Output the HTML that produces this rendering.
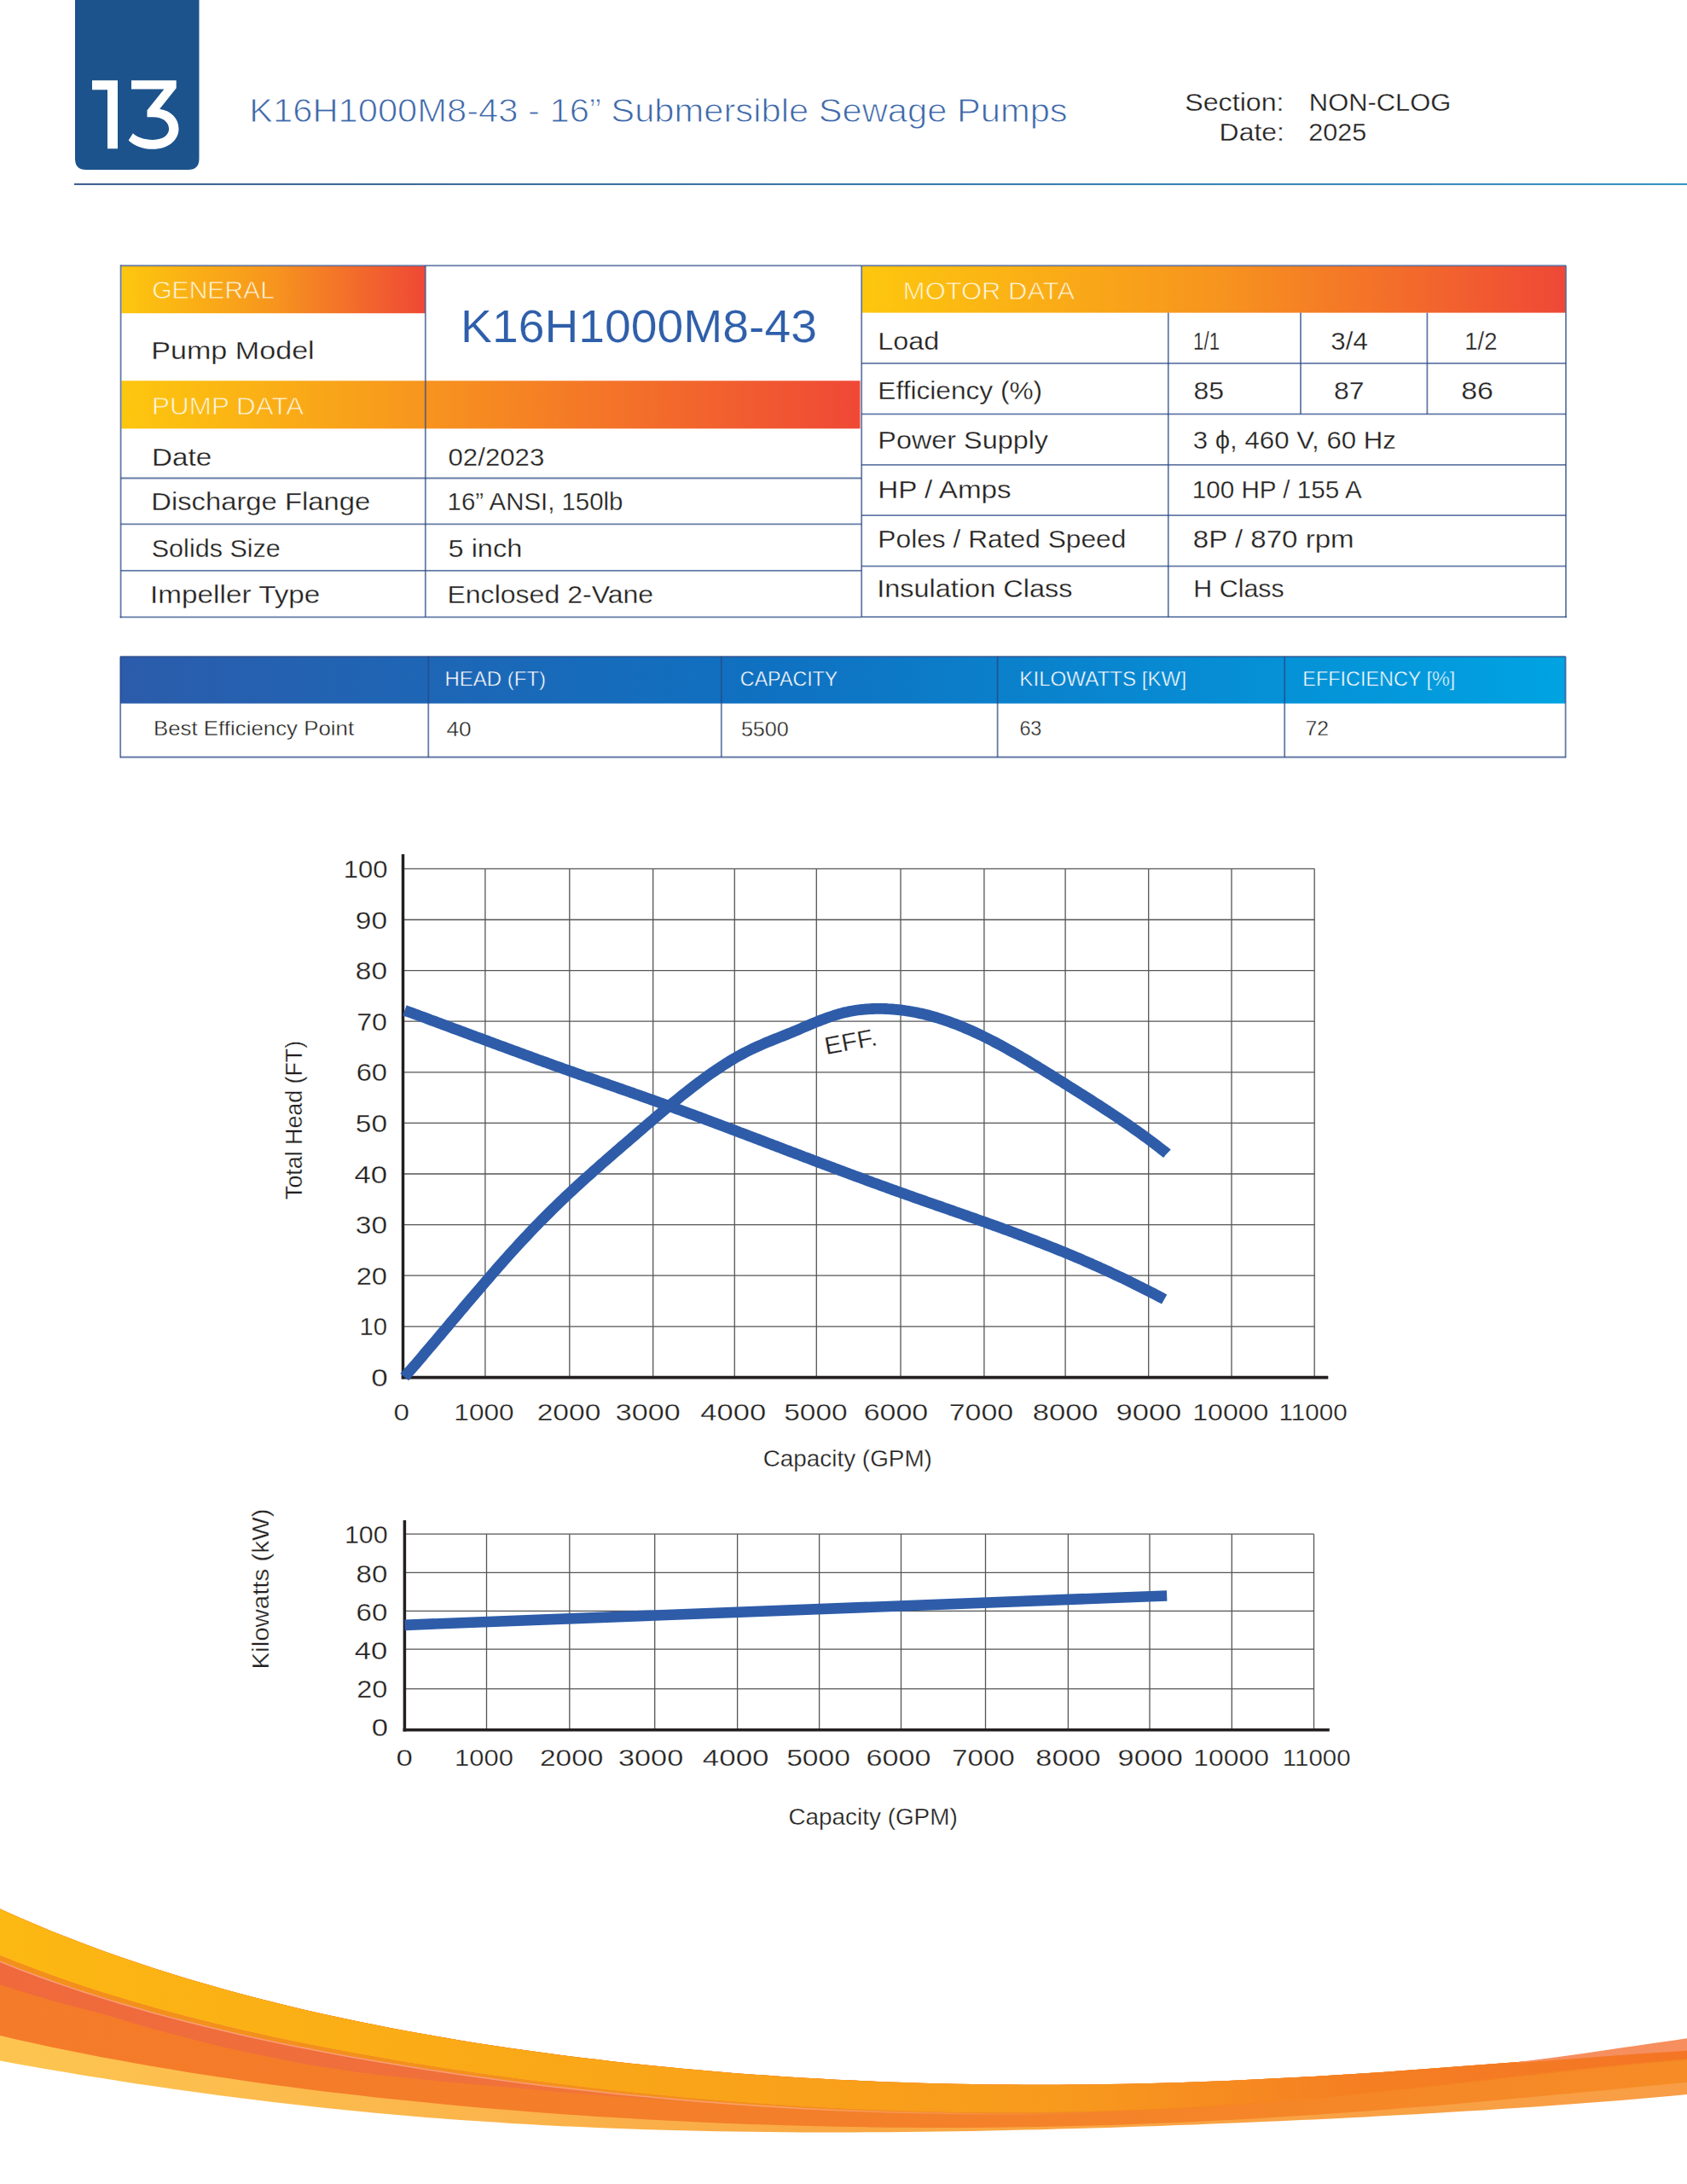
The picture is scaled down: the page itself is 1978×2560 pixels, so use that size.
<!DOCTYPE html>
<html><head><meta charset="utf-8"><title>K16H1000M8-43</title>
<style>
html,body{margin:0;padding:0;background:#ffffff;}
body{width:1978px;height:2560px;overflow:hidden;}
svg{display:block;}
text{font-family:"Liberation Sans",sans-serif;}
</style></head><body>
<svg width="1978" height="2560" viewBox="0 0 1978 2560">
<defs>
<linearGradient id="gOrange" x1="0" x2="1" y1="0" y2="0">
  <stop offset="0" stop-color="#fdc70e"/><stop offset="0.5" stop-color="#f7951e"/><stop offset="1" stop-color="#ef4836"/>
</linearGradient>
<linearGradient id="gYO" x1="0" x2="1" y1="0" y2="0">
  <stop offset="0" stop-color="#fdc70e"/><stop offset="1" stop-color="#f7951e"/>
</linearGradient>
<linearGradient id="gOR" x1="0" x2="1" y1="0" y2="0">
  <stop offset="0" stop-color="#f7941e"/><stop offset="1" stop-color="#ef4836"/>
</linearGradient>
<linearGradient id="gBlue" x1="0" x2="1" y1="0" y2="0">
  <stop offset="0" stop-color="#2b5cab"/><stop offset="0.45" stop-color="#0f71c1"/><stop offset="1" stop-color="#00a3e2"/>
</linearGradient>
<linearGradient id="gLine" x1="0" x2="1" y1="0" y2="0">
  <stop offset="0" stop-color="#35598a"/><stop offset="0.5" stop-color="#2f72a6"/><stop offset="1" stop-color="#2d8fbb"/>
</linearGradient>
<linearGradient id="gSwY" gradientUnits="userSpaceOnUse" x1="0" x2="1978" y1="0" y2="0">
  <stop offset="0" stop-color="#fcb813"/><stop offset="0.3" stop-color="#faa917"/><stop offset="0.63" stop-color="#f89a1d"/><stop offset="0.8" stop-color="#f57f22"/><stop offset="1" stop-color="#f47525"/>
</linearGradient>
<linearGradient id="gSwR" gradientUnits="userSpaceOnUse" x1="0" x2="1978" y1="0" y2="0">
  <stop offset="0" stop-color="#ef693c"/><stop offset="0.3" stop-color="#f0713b"/><stop offset="0.5" stop-color="#f47e2b"/><stop offset="1" stop-color="#f68a24"/>
</linearGradient>
<linearGradient id="gSwO" gradientUnits="userSpaceOnUse" x1="0" x2="1978" y1="0" y2="0">
  <stop offset="0" stop-color="#f47b29"/><stop offset="0.5" stop-color="#f47f2a"/><stop offset="1" stop-color="#f68c26"/>
</linearGradient>
<linearGradient id="gSwL" gradientUnits="userSpaceOnUse" x1="0" x2="1978" y1="0" y2="0">
  <stop offset="0" stop-color="#fdc550"/><stop offset="0.3" stop-color="#fbb44b"/><stop offset="0.5" stop-color="#f9a843"/><stop offset="1" stop-color="#f89d45"/>
</linearGradient>
<linearGradient id="gSwLine" gradientUnits="userSpaceOnUse" x1="0" x2="1300" y1="0" y2="0">
  <stop offset="0" stop-color="#fba37f" stop-opacity="0.9"/><stop offset="0.7" stop-color="#fbb08a" stop-opacity="0.7"/><stop offset="1" stop-color="#fbb08a" stop-opacity="0"/>
</linearGradient>
<linearGradient id="uGen" gradientUnits="userSpaceOnUse" x1="142.5" x2="498.5" y1="0" y2="0">
  <stop offset="0" stop-color="#fdc70e"/><stop offset="0.5" stop-color="#f7951e"/><stop offset="1" stop-color="#ef4836"/>
</linearGradient>
<linearGradient id="uPump" gradientUnits="userSpaceOnUse" x1="142.5" x2="498.5" y1="0" y2="0">
  <stop offset="0" stop-color="#fdc70e"/><stop offset="1" stop-color="#f7951e"/>
</linearGradient>
<linearGradient id="uMotor" gradientUnits="userSpaceOnUse" x1="1011" x2="1835.5" y1="0" y2="0">
  <stop offset="0" stop-color="#fdc70e"/><stop offset="0.5" stop-color="#f7951e"/><stop offset="1" stop-color="#ef4836"/>
</linearGradient>
<linearGradient id="uBlue" gradientUnits="userSpaceOnUse" x1="141" x2="1835.5" y1="0" y2="0">
  <stop offset="0" stop-color="#2b5cab"/><stop offset="0.45" stop-color="#0f71c1"/><stop offset="1" stop-color="#00a3e2"/>
</linearGradient>
<linearGradient id="gSwS" gradientUnits="userSpaceOnUse" x1="0" x2="1978" y1="0" y2="0">
  <stop offset="0" stop-color="#f3901c"/><stop offset="0.5" stop-color="#f4901d"/><stop offset="1" stop-color="#f47a22"/>
</linearGradient>
</defs>
<path d="M88,0 H233.5 V186 Q233.5,199 220.5,199 H101 Q88,199 88,186 Z" fill="#1c538c"/>
<path d="M108,94.3 H138 V174.3 H126 V105.2 H108 Z" fill="#ffffff"/>
<path d="M154,94.2 H206.7 V103.2 L187.2,127.8 C201,130 209.5,139 209.5,151 C209.5,164.5 197,174.8 179.6,174.8 C167,174.8 157,170.5 150.7,164.4 L155.9,156.3 C161,161 169,163.9 179.6,163.9 C191,163.9 198.1,158.5 198.1,151.1 C198.1,143 190.5,137.3 179.6,137.3 H172.5 V129.3 L192.4,104.6 H154 Z" fill="#ffffff"/>
<rect x="87" y="214.9" width="1891" height="2.0" fill="url(#gLine)"/>
<rect x="142.5" y="312" width="356" height="55.2" fill="url(#gOrange)"/>
<rect x="142.5" y="446.3" width="356" height="56.1" fill="url(#gYO)"/>
<rect x="498.5" y="446.3" width="510" height="56.1" fill="url(#gOR)"/>
<rect x="1011" y="312" width="824.5" height="54.6" fill="url(#gOrange)"/>
<line x1="141.6" y1="311.3" x2="1010" y2="311.3" stroke="#284684" stroke-width="1.8" stroke-opacity="0.72"/>
<line x1="141.6" y1="310.4" x2="141.6" y2="724.2" stroke="#284684" stroke-width="1.8" stroke-opacity="0.72"/>
<line x1="140.7" y1="723.3" x2="1010" y2="723.3" stroke="#284684" stroke-width="1.8" stroke-opacity="0.72"/>
<line x1="498.8" y1="311.3" x2="498.8" y2="723.3" stroke="#284684" stroke-width="1.8" stroke-opacity="0.72"/>
<line x1="141.6" y1="560.5" x2="1010" y2="560.5" stroke="#284684" stroke-width="1.8" stroke-opacity="0.72"/>
<line x1="141.6" y1="614.4" x2="1010" y2="614.4" stroke="#284684" stroke-width="1.8" stroke-opacity="0.72"/>
<line x1="141.6" y1="668.9" x2="1010" y2="668.9" stroke="#284684" stroke-width="1.8" stroke-opacity="0.72"/>
<line x1="1010.2" y1="311.3" x2="1836" y2="311.3" stroke="#284684" stroke-width="1.8" stroke-opacity="0.72"/>
<line x1="1010.2" y1="311.3" x2="1010.2" y2="723.3" stroke="#284684" stroke-width="1.8" stroke-opacity="0.72"/>
<line x1="1010.2" y1="723.2" x2="1836.8" y2="723.2" stroke="#284684" stroke-width="1.8" stroke-opacity="0.72"/>
<line x1="1836" y1="311.3" x2="1836" y2="724" stroke="#284684" stroke-width="1.8" stroke-opacity="0.72"/>
<line x1="1369.8" y1="366.6" x2="1369.8" y2="723.2" stroke="#284684" stroke-width="1.8" stroke-opacity="0.72"/>
<line x1="1525" y1="366.6" x2="1525" y2="485.3" stroke="#284684" stroke-width="1.8" stroke-opacity="0.72"/>
<line x1="1673.4" y1="366.6" x2="1673.4" y2="485.3" stroke="#284684" stroke-width="1.8" stroke-opacity="0.72"/>
<line x1="1010.2" y1="425.9" x2="1836" y2="425.9" stroke="#284684" stroke-width="1.8" stroke-opacity="0.72"/>
<line x1="1010.2" y1="485.3" x2="1836" y2="485.3" stroke="#284684" stroke-width="1.8" stroke-opacity="0.72"/>
<line x1="1010.2" y1="544.9" x2="1836" y2="544.9" stroke="#284684" stroke-width="1.8" stroke-opacity="0.72"/>
<line x1="1010.2" y1="604.2" x2="1836" y2="604.2" stroke="#284684" stroke-width="1.8" stroke-opacity="0.72"/>
<line x1="1010.2" y1="663.7" x2="1836" y2="663.7" stroke="#284684" stroke-width="1.8" stroke-opacity="0.72"/>
<rect x="141" y="769.6" width="1694.5" height="55" fill="url(#gBlue)"/>
<line x1="141.2" y1="769.6" x2="1835.6" y2="769.6" stroke="#284684" stroke-width="1.8" stroke-opacity="0.72"/>
<line x1="141.2" y1="887.5" x2="1835.6" y2="887.5" stroke="#284684" stroke-width="1.8" stroke-opacity="0.72"/>
<line x1="141.2" y1="769.6" x2="141.2" y2="888.3" stroke="#284684" stroke-width="1.8" stroke-opacity="0.72"/>
<line x1="1835.6" y1="769.6" x2="1835.6" y2="888.3" stroke="#284684" stroke-width="1.8" stroke-opacity="0.72"/>
<line x1="502.3" y1="769.6" x2="502.3" y2="887.5" stroke="#284684" stroke-width="1.8" stroke-opacity="0.72"/>
<line x1="845.8" y1="769.6" x2="845.8" y2="887.5" stroke="#284684" stroke-width="1.8" stroke-opacity="0.72"/>
<line x1="1169.6" y1="769.6" x2="1169.6" y2="887.5" stroke="#284684" stroke-width="1.8" stroke-opacity="0.72"/>
<line x1="1506.2" y1="769.6" x2="1506.2" y2="887.5" stroke="#284684" stroke-width="1.8" stroke-opacity="0.72"/>
<line x1="472.5" y1="1554.8" x2="1541.2" y2="1554.8" stroke="#555555" stroke-width="1.3"/>
<line x1="472.5" y1="1495.2" x2="1541.2" y2="1495.2" stroke="#555555" stroke-width="1.3"/>
<line x1="472.5" y1="1435.6" x2="1541.2" y2="1435.6" stroke="#555555" stroke-width="1.3"/>
<line x1="472.5" y1="1376.0" x2="1541.2" y2="1376.0" stroke="#555555" stroke-width="1.3"/>
<line x1="472.5" y1="1316.4" x2="1541.2" y2="1316.4" stroke="#555555" stroke-width="1.3"/>
<line x1="472.5" y1="1256.8" x2="1541.2" y2="1256.8" stroke="#555555" stroke-width="1.3"/>
<line x1="472.5" y1="1197.2" x2="1541.2" y2="1197.2" stroke="#555555" stroke-width="1.3"/>
<line x1="472.5" y1="1137.6" x2="1541.2" y2="1137.6" stroke="#555555" stroke-width="1.3"/>
<line x1="472.5" y1="1078.0" x2="1541.2" y2="1078.0" stroke="#555555" stroke-width="1.3"/>
<line x1="472.5" y1="1018.4" x2="1541.2" y2="1018.4" stroke="#555555" stroke-width="1.3"/>
<line x1="568.9" y1="1018.3" x2="568.9" y2="1614.4" stroke="#555555" stroke-width="1.3"/>
<line x1="667.8" y1="1018.3" x2="667.8" y2="1614.4" stroke="#555555" stroke-width="1.3"/>
<line x1="765.7" y1="1018.3" x2="765.7" y2="1614.4" stroke="#555555" stroke-width="1.3"/>
<line x1="861.3" y1="1018.3" x2="861.3" y2="1614.4" stroke="#555555" stroke-width="1.3"/>
<line x1="957.3" y1="1018.3" x2="957.3" y2="1614.4" stroke="#555555" stroke-width="1.3"/>
<line x1="1056.0" y1="1018.3" x2="1056.0" y2="1614.4" stroke="#555555" stroke-width="1.3"/>
<line x1="1153.9" y1="1018.3" x2="1153.9" y2="1614.4" stroke="#555555" stroke-width="1.3"/>
<line x1="1249.1" y1="1018.3" x2="1249.1" y2="1614.4" stroke="#555555" stroke-width="1.3"/>
<line x1="1346.7" y1="1018.3" x2="1346.7" y2="1614.4" stroke="#555555" stroke-width="1.3"/>
<line x1="1444.0" y1="1018.3" x2="1444.0" y2="1614.4" stroke="#555555" stroke-width="1.3"/>
<line x1="1541.2" y1="1018.3" x2="1541.2" y2="1614.4" stroke="#555555" stroke-width="1.3"/>
<line x1="472.5" y1="1001.3" x2="472.5" y2="1616.2" stroke="#231f20" stroke-width="3.5"/>
<line x1="470.8" y1="1614.6" x2="1557.3" y2="1614.6" stroke="#231f20" stroke-width="3.6"/>
<path d="M474.5,1184.3 L477.5,1185.4 L480.5,1186.5 L483.5,1187.6 L486.5,1188.7 L489.5,1189.8 L492.5,1190.9 L495.5,1192.0 L498.5,1193.1 L501.5,1194.2 L504.5,1195.4 L507.5,1196.5 L510.5,1197.6 L513.5,1198.7 L516.5,1199.8 L519.5,1200.9 L522.5,1202.0 L525.5,1203.1 L528.5,1204.3 L531.5,1205.4 L534.5,1206.5 L537.5,1207.6 L540.5,1208.7 L543.5,1209.8 L546.5,1210.9 L549.5,1212.1 L552.5,1213.2 L555.5,1214.3 L558.5,1215.4 L561.5,1216.5 L564.5,1217.6 L567.5,1218.7 L570.5,1219.8 L573.5,1221.0 L576.5,1222.1 L579.5,1223.2 L582.5,1224.3 L585.5,1225.4 L588.5,1226.5 L591.5,1227.6 L594.5,1228.7 L597.5,1229.8 L600.5,1230.9 L603.5,1232.0 L606.5,1233.1 L609.5,1234.2 L612.5,1235.3 L615.5,1236.4 L618.5,1237.5 L621.5,1238.6 L624.5,1239.7 L627.5,1240.8 L630.5,1241.9 L633.5,1243.0 L636.5,1244.1 L639.5,1245.1 L642.5,1246.2 L645.5,1247.3 L648.5,1248.4 L651.5,1249.5 L654.5,1250.5 L657.5,1251.6 L660.5,1252.7 L663.5,1253.7 L666.5,1254.8 L669.5,1255.9 L672.5,1256.9 L675.5,1258.0 L678.5,1259.1 L681.5,1260.1 L684.5,1261.2 L687.5,1262.2 L690.5,1263.3 L693.5,1264.3 L696.5,1265.4 L699.5,1266.4 L702.5,1267.5 L705.5,1268.5 L708.5,1269.6 L711.5,1270.6 L714.5,1271.7 L717.5,1272.7 L720.5,1273.8 L723.5,1274.8 L726.5,1275.9 L729.5,1276.9 L732.5,1278.0 L735.5,1279.0 L738.5,1280.1 L741.5,1281.1 L744.5,1282.2 L747.5,1283.2 L750.5,1284.3 L753.5,1285.4 L756.5,1286.4 L759.5,1287.5 L762.5,1288.6 L765.5,1289.6 L768.5,1290.7 L771.5,1291.8 L774.5,1292.9 L777.5,1293.9 L780.5,1295.0 L783.5,1296.1 L786.5,1297.2 L789.5,1298.3 L792.5,1299.4 L795.5,1300.5 L798.5,1301.6 L801.5,1302.7 L804.5,1303.8 L807.5,1304.9 L810.5,1306.0 L813.5,1307.1 L816.5,1308.2 L819.5,1309.3 L822.5,1310.5 L825.5,1311.6 L828.5,1312.7 L831.5,1313.8 L834.5,1314.9 L837.5,1316.1 L840.5,1317.2 L843.5,1318.3 L846.5,1319.4 L849.5,1320.6 L852.5,1321.7 L855.5,1322.8 L858.5,1324.0 L861.5,1325.1 L864.5,1326.2 L867.5,1327.4 L870.5,1328.5 L873.5,1329.6 L876.5,1330.8 L879.5,1331.9 L882.5,1333.1 L885.5,1334.2 L888.5,1335.3 L891.5,1336.5 L894.5,1337.6 L897.5,1338.8 L900.5,1339.9 L903.5,1341.0 L906.5,1342.2 L909.5,1343.3 L912.5,1344.5 L915.5,1345.6 L918.5,1346.8 L921.5,1347.9 L924.5,1349.0 L927.5,1350.2 L930.5,1351.3 L933.5,1352.5 L936.5,1353.6 L939.5,1354.7 L942.5,1355.9 L945.5,1357.0 L948.5,1358.1 L951.5,1359.3 L954.5,1360.4 L957.5,1361.5 L960.5,1362.7 L963.5,1363.8 L966.5,1364.9 L969.5,1366.1 L972.5,1367.2 L975.5,1368.3 L978.5,1369.5 L981.5,1370.6 L984.5,1371.7 L987.5,1372.8 L990.5,1373.9 L993.5,1375.1 L996.5,1376.2 L999.5,1377.3 L1002.5,1378.4 L1005.5,1379.5 L1008.5,1380.6 L1011.5,1381.7 L1014.5,1382.8 L1017.5,1384.0 L1020.5,1385.1 L1023.5,1386.2 L1026.5,1387.2 L1029.5,1388.3 L1032.5,1389.4 L1035.5,1390.5 L1038.5,1391.6 L1041.5,1392.7 L1044.5,1393.8 L1047.5,1394.9 L1050.5,1395.9 L1053.5,1397.0 L1056.5,1398.1 L1059.5,1399.1 L1062.5,1400.2 L1065.5,1401.3 L1068.5,1402.3 L1071.5,1403.4 L1074.5,1404.5 L1077.5,1405.5 L1080.5,1406.6 L1083.5,1407.6 L1086.5,1408.7 L1089.5,1409.7 L1092.5,1410.8 L1095.5,1411.8 L1098.5,1412.9 L1101.5,1413.9 L1104.5,1414.9 L1107.5,1416.0 L1110.5,1417.0 L1113.5,1418.1 L1116.5,1419.1 L1119.5,1420.2 L1122.5,1421.2 L1125.5,1422.3 L1128.5,1423.3 L1131.5,1424.4 L1134.5,1425.4 L1137.5,1426.5 L1140.5,1427.5 L1143.5,1428.6 L1146.5,1429.7 L1149.5,1430.7 L1152.5,1431.8 L1155.5,1432.8 L1158.5,1433.9 L1161.5,1435.0 L1164.5,1436.1 L1167.5,1437.1 L1170.5,1438.2 L1173.5,1439.3 L1176.5,1440.4 L1179.5,1441.5 L1182.5,1442.6 L1185.5,1443.7 L1188.5,1444.8 L1191.5,1445.9 L1194.5,1447.0 L1197.5,1448.2 L1200.5,1449.3 L1203.5,1450.4 L1206.5,1451.6 L1209.5,1452.7 L1212.5,1453.8 L1215.5,1455.0 L1218.5,1456.2 L1221.5,1457.3 L1224.5,1458.5 L1227.5,1459.7 L1230.5,1460.9 L1233.5,1462.1 L1236.5,1463.3 L1239.5,1464.5 L1242.5,1465.7 L1245.5,1466.9 L1248.5,1468.1 L1251.5,1469.4 L1254.5,1470.6 L1257.5,1471.9 L1260.5,1473.2 L1263.5,1474.4 L1266.5,1475.7 L1269.5,1477.0 L1272.5,1478.3 L1275.5,1479.6 L1278.5,1480.9 L1281.5,1482.3 L1284.5,1483.6 L1287.5,1484.9 L1290.5,1486.3 L1293.5,1487.6 L1296.5,1489.0 L1299.5,1490.4 L1302.5,1491.8 L1305.5,1493.2 L1308.5,1494.6 L1311.5,1496.0 L1314.5,1497.4 L1317.5,1498.8 L1320.5,1500.3 L1323.5,1501.7 L1326.5,1503.2 L1329.5,1504.7 L1332.5,1506.2 L1335.5,1507.7 L1338.5,1509.2 L1341.5,1510.7 L1344.5,1512.2 L1347.5,1513.7 L1350.5,1515.3 L1353.5,1516.8 L1356.5,1518.4 L1359.5,1520.0 L1362.5,1521.5 L1365.2,1523.0" fill="none" stroke="#2e5ca9" stroke-width="12.8" stroke-linejoin="round"/>
<path d="M474.2,1614.2 L477.2,1610.7 L480.2,1607.2 L483.2,1603.8 L486.2,1600.3 L489.2,1596.8 L492.2,1593.3 L495.2,1589.8 L498.2,1586.2 L501.2,1582.7 L504.2,1579.2 L507.2,1575.6 L510.2,1572.1 L513.2,1568.5 L516.2,1565.0 L519.2,1561.4 L522.2,1557.9 L525.2,1554.3 L528.2,1550.7 L531.2,1547.2 L534.2,1543.6 L537.2,1540.1 L540.2,1536.5 L543.2,1533.0 L546.2,1529.4 L549.2,1525.9 L552.2,1522.3 L555.2,1518.8 L558.2,1515.3 L561.2,1511.8 L564.2,1508.3 L567.2,1504.8 L570.2,1501.3 L573.2,1497.9 L576.2,1494.4 L579.2,1491.0 L582.2,1487.5 L585.2,1484.1 L588.2,1480.7 L591.2,1477.3 L594.2,1474.0 L597.2,1470.6 L600.2,1467.3 L603.2,1464.0 L606.2,1460.7 L609.2,1457.4 L612.2,1454.2 L615.2,1451.0 L618.2,1447.8 L621.2,1444.6 L624.2,1441.4 L627.2,1438.3 L630.2,1435.2 L633.2,1432.1 L636.2,1429.1 L639.2,1426.1 L642.2,1423.1 L645.2,1420.1 L648.2,1417.2 L651.2,1414.2 L654.2,1411.3 L657.2,1408.4 L660.2,1405.6 L663.2,1402.7 L666.2,1399.9 L669.2,1397.1 L672.2,1394.3 L675.2,1391.6 L678.2,1388.8 L681.2,1386.1 L684.2,1383.3 L687.2,1380.6 L690.2,1377.9 L693.2,1375.3 L696.2,1372.6 L699.2,1369.9 L702.2,1367.3 L705.2,1364.6 L708.2,1362.0 L711.2,1359.4 L714.2,1356.7 L717.2,1354.1 L720.2,1351.5 L723.2,1348.9 L726.2,1346.3 L729.2,1343.7 L732.2,1341.2 L735.2,1338.6 L738.2,1336.0 L741.2,1333.4 L744.2,1330.8 L747.2,1328.2 L750.2,1325.6 L753.2,1323.1 L756.2,1320.5 L759.2,1317.9 L762.2,1315.3 L765.2,1312.8 L768.2,1310.2 L771.2,1307.6 L774.2,1305.1 L777.2,1302.6 L780.2,1300.1 L783.2,1297.5 L786.2,1295.0 L789.2,1292.6 L792.2,1290.1 L795.2,1287.7 L798.2,1285.2 L801.2,1282.8 L804.2,1280.4 L807.2,1278.1 L810.2,1275.7 L813.2,1273.4 L816.2,1271.1 L819.2,1268.8 L822.2,1266.6 L825.2,1264.4 L828.2,1262.2 L831.2,1260.1 L834.2,1257.9 L837.2,1255.9 L840.2,1253.8 L843.2,1251.8 L846.2,1249.8 L849.2,1247.9 L852.2,1246.0 L855.2,1244.1 L858.2,1242.3 L861.2,1240.5 L864.2,1238.8 L867.2,1237.1 L870.2,1235.5 L873.2,1233.9 L876.2,1232.4 L879.2,1230.9 L882.2,1229.4 L885.2,1228.0 L888.2,1226.6 L891.2,1225.3 L894.2,1224.0 L897.2,1222.7 L900.2,1221.4 L903.2,1220.2 L906.2,1219.0 L909.2,1217.8 L912.2,1216.6 L915.2,1215.4 L918.2,1214.2 L921.2,1213.0 L924.2,1211.8 L927.2,1210.6 L930.2,1209.3 L933.2,1208.1 L936.2,1206.8 L939.2,1205.5 L942.2,1204.2 L945.2,1202.9 L948.2,1201.7 L951.2,1200.4 L954.2,1199.1 L957.2,1197.9 L960.2,1196.7 L963.2,1195.5 L966.2,1194.4 L969.2,1193.3 L972.2,1192.2 L975.2,1191.2 L978.2,1190.2 L981.2,1189.3 L984.2,1188.4 L987.2,1187.6 L990.2,1186.8 L993.2,1186.2 L996.2,1185.5 L999.2,1185.0 L1002.2,1184.5 L1005.2,1184.0 L1008.2,1183.7 L1011.2,1183.3 L1014.2,1183.0 L1017.2,1182.8 L1020.2,1182.6 L1023.2,1182.5 L1026.2,1182.4 L1029.2,1182.4 L1032.2,1182.4 L1035.2,1182.4 L1038.2,1182.5 L1041.2,1182.7 L1044.2,1182.8 L1047.2,1183.0 L1050.2,1183.3 L1053.2,1183.6 L1056.2,1183.9 L1059.2,1184.3 L1062.2,1184.8 L1065.2,1185.2 L1068.2,1185.7 L1071.2,1186.3 L1074.2,1186.8 L1077.2,1187.5 L1080.2,1188.1 L1083.2,1188.8 L1086.2,1189.5 L1089.2,1190.3 L1092.2,1191.1 L1095.2,1192.0 L1098.2,1192.8 L1101.2,1193.8 L1104.2,1194.7 L1107.2,1195.7 L1110.2,1196.7 L1113.2,1197.8 L1116.2,1198.9 L1119.2,1200.0 L1122.2,1201.1 L1125.2,1202.3 L1128.2,1203.5 L1131.2,1204.8 L1134.2,1206.1 L1137.2,1207.4 L1140.2,1208.7 L1143.2,1210.1 L1146.2,1211.5 L1149.2,1212.9 L1152.2,1214.4 L1155.2,1215.9 L1158.2,1217.4 L1161.2,1218.9 L1164.2,1220.4 L1167.2,1222.0 L1170.2,1223.6 L1173.2,1225.2 L1176.2,1226.8 L1179.2,1228.5 L1182.2,1230.2 L1185.2,1231.9 L1188.2,1233.6 L1191.2,1235.3 L1194.2,1237.0 L1197.2,1238.8 L1200.2,1240.5 L1203.2,1242.3 L1206.2,1244.1 L1209.2,1245.9 L1212.2,1247.7 L1215.2,1249.5 L1218.2,1251.4 L1221.2,1253.2 L1224.2,1255.1 L1227.2,1256.9 L1230.2,1258.8 L1233.2,1260.6 L1236.2,1262.5 L1239.2,1264.4 L1242.2,1266.3 L1245.2,1268.1 L1248.2,1270.0 L1251.2,1271.9 L1254.2,1273.8 L1257.2,1275.7 L1260.2,1277.6 L1263.2,1279.4 L1266.2,1281.3 L1269.2,1283.2 L1272.2,1285.1 L1275.2,1287.0 L1278.2,1288.9 L1281.2,1290.9 L1284.2,1292.8 L1287.2,1294.7 L1290.2,1296.7 L1293.2,1298.6 L1296.2,1300.6 L1299.2,1302.5 L1302.2,1304.5 L1305.2,1306.5 L1308.2,1308.5 L1311.2,1310.5 L1314.2,1312.6 L1317.2,1314.6 L1320.2,1316.7 L1323.2,1318.7 L1326.2,1320.8 L1329.2,1322.9 L1332.2,1325.0 L1335.2,1327.2 L1338.2,1329.3 L1341.2,1331.5 L1344.2,1333.7 L1347.2,1335.9 L1350.2,1338.1 L1353.2,1340.4 L1356.2,1342.7 L1359.2,1345.0 L1362.2,1347.3 L1365.2,1349.6 L1368.2,1352.0 L1368.3,1352.1" fill="none" stroke="#2e5ca9" stroke-width="12.8" stroke-linejoin="round"/>
<line x1="474.2" y1="1798.2" x2="1540.5" y2="1798.2" stroke="#555555" stroke-width="1.3"/>
<line x1="474.2" y1="1843.4" x2="1540.5" y2="1843.4" stroke="#555555" stroke-width="1.3"/>
<line x1="474.2" y1="1888.4" x2="1540.5" y2="1888.4" stroke="#555555" stroke-width="1.3"/>
<line x1="474.2" y1="1933.1" x2="1540.5" y2="1933.1" stroke="#555555" stroke-width="1.3"/>
<line x1="474.2" y1="1979.6" x2="1540.5" y2="1979.6" stroke="#555555" stroke-width="1.3"/>
<line x1="570.5" y1="1798.2" x2="570.5" y2="2027.6" stroke="#555555" stroke-width="1.3"/>
<line x1="667.8" y1="1798.2" x2="667.8" y2="2027.6" stroke="#555555" stroke-width="1.3"/>
<line x1="767.7" y1="1798.2" x2="767.7" y2="2027.6" stroke="#555555" stroke-width="1.3"/>
<line x1="864.6" y1="1798.2" x2="864.6" y2="2027.6" stroke="#555555" stroke-width="1.3"/>
<line x1="960.6" y1="1798.2" x2="960.6" y2="2027.6" stroke="#555555" stroke-width="1.3"/>
<line x1="1056.5" y1="1798.2" x2="1056.5" y2="2027.6" stroke="#555555" stroke-width="1.3"/>
<line x1="1155.5" y1="1798.2" x2="1155.5" y2="2027.6" stroke="#555555" stroke-width="1.3"/>
<line x1="1252.4" y1="1798.2" x2="1252.4" y2="2027.6" stroke="#555555" stroke-width="1.3"/>
<line x1="1348.0" y1="1798.2" x2="1348.0" y2="2027.6" stroke="#555555" stroke-width="1.3"/>
<line x1="1444.3" y1="1798.2" x2="1444.3" y2="2027.6" stroke="#555555" stroke-width="1.3"/>
<line x1="1540.5" y1="1798.2" x2="1540.5" y2="2027.6" stroke="#555555" stroke-width="1.3"/>
<line x1="474.4" y1="1782" x2="474.4" y2="2029.4" stroke="#231f20" stroke-width="3.5"/>
<line x1="472.6" y1="2027.7" x2="1558.8" y2="2027.7" stroke="#231f20" stroke-width="3.6"/>
<path d="M474.5,1904.8 L1368.2,1870.5" fill="none" stroke="#2e5ca9" stroke-width="12.7"/>
<path d="M-20.0,2228.3 0.0,2237.6 20.0,2246.5 40.0,2255.1 60.0,2263.4 80.0,2271.3 100.0,2279.0 120.0,2286.4 140.0,2293.5 160.0,2300.3 180.0,2306.9 200.0,2313.3 220.0,2319.4 240.0,2325.3 260.0,2331.0 280.0,2336.4 300.0,2341.7 320.0,2346.8 340.0,2351.7 360.0,2356.4 380.0,2360.9 400.0,2365.3 420.0,2369.5 440.0,2373.5 460.0,2377.4 480.0,2381.2 500.0,2384.8 520.0,2388.3 540.0,2391.7 560.0,2394.9 580.0,2398.0 600.0,2401.0 620.0,2403.8 640.0,2406.6 660.0,2409.2 680.0,2411.7 700.0,2414.1 720.0,2416.5 740.0,2418.7 760.0,2420.8 780.0,2422.8 800.0,2424.7 820.0,2426.5 840.0,2428.2 860.0,2429.9 880.0,2431.4 900.0,2432.8 920.0,2434.2 940.0,2435.4 960.0,2436.6 980.0,2437.7 1000.0,2438.6 1020.0,2439.5 1040.0,2440.4 1060.0,2441.1 1080.0,2441.7 1100.0,2442.3 1120.0,2442.7 1140.0,2443.1 1160.0,2443.4 1180.0,2443.6 1200.0,2443.7 1220.0,2443.8 1240.0,2443.7 1260.0,2443.6 1280.0,2443.4 1300.0,2443.1 1320.0,2442.7 1340.0,2442.3 1360.0,2441.8 1380.0,2441.2 1400.0,2440.5 1420.0,2439.8 1440.0,2439.0 1460.0,2438.1 1480.0,2437.1 1500.0,2436.1 1520.0,2435.0 1540.0,2433.9 1560.0,2432.7 1580.0,2431.5 1600.0,2430.2 1620.0,2428.9 1640.0,2427.5 1660.0,2426.1 1680.0,2424.6 1700.0,2423.1 1720.0,2421.6 1740.0,2420.1 1760.0,2418.6 1780.0,2417.0 1800.0,2415.5 1820.0,2413.9 1840.0,2412.4 1860.0,2410.9 1880.0,2409.4 1900.0,2408.0 1920.0,2406.6 1940.0,2405.2 1960.0,2403.9 1980.0,2402.7 2000.0,2401.6 L2000.0,2452.9 1980.0,2454.8 1960.0,2456.7 1940.0,2458.5 1920.0,2460.2 1900.0,2461.9 1880.0,2463.5 1860.0,2465.1 1840.0,2466.6 1820.0,2468.0 1800.0,2469.4 1780.0,2470.8 1760.0,2472.1 1740.0,2473.4 1720.0,2474.6 1700.0,2475.8 1680.0,2477.0 1660.0,2478.2 1640.0,2479.3 1620.0,2480.3 1600.0,2481.4 1580.0,2482.4 1560.0,2483.4 1540.0,2484.4 1520.0,2485.3 1500.0,2486.2 1480.0,2487.1 1460.0,2488.0 1440.0,2488.8 1420.0,2489.6 1400.0,2490.4 1380.0,2491.1 1360.0,2491.9 1340.0,2492.6 1320.0,2493.2 1300.0,2493.9 1280.0,2494.5 1260.0,2495.1 1240.0,2495.6 1220.0,2496.2 1200.0,2496.6 1180.0,2497.1 1160.0,2497.5 1140.0,2497.9 1120.0,2498.2 1100.0,2498.5 1080.0,2498.8 1060.0,2499.0 1040.0,2499.2 1020.0,2499.3 1000.0,2499.4 980.0,2499.4 960.0,2499.4 940.0,2499.4 920.0,2499.2 900.0,2499.1 880.0,2498.8 860.0,2498.5 840.0,2498.2 820.0,2497.8 800.0,2497.3 780.0,2496.8 760.0,2496.2 740.0,2495.5 720.0,2494.8 700.0,2494.0 680.0,2493.1 660.0,2492.2 640.0,2491.2 620.0,2490.1 600.0,2488.9 580.0,2487.6 560.0,2486.3 540.0,2484.9 520.0,2483.4 500.0,2481.9 480.0,2480.2 460.0,2478.5 440.0,2476.7 420.0,2474.8 400.0,2472.8 380.0,2470.7 360.0,2468.5 340.0,2466.3 320.0,2464.0 300.0,2461.6 280.0,2459.1 260.0,2456.5 240.0,2453.8 220.0,2451.1 200.0,2448.3 180.0,2445.3 160.0,2442.4 140.0,2439.3 120.0,2436.1 100.0,2432.9 80.0,2429.6 60.0,2426.2 40.0,2422.8 20.0,2419.2 0.0,2415.6 -20.0,2412.0 Z" fill="url(#gSwL)"/>
<path d="M-20.0,2228.3 0.0,2237.6 20.0,2246.5 40.0,2255.1 60.0,2263.4 80.0,2271.3 100.0,2279.0 120.0,2286.4 140.0,2293.5 160.0,2300.3 180.0,2306.9 200.0,2313.3 220.0,2319.4 240.0,2325.3 260.0,2331.0 280.0,2336.4 300.0,2341.7 320.0,2346.8 340.0,2351.7 360.0,2356.4 380.0,2360.9 400.0,2365.3 420.0,2369.5 440.0,2373.5 460.0,2377.4 480.0,2381.2 500.0,2384.8 520.0,2388.3 540.0,2391.7 560.0,2394.9 580.0,2398.0 600.0,2401.0 620.0,2403.8 640.0,2406.6 660.0,2409.2 680.0,2411.7 700.0,2414.1 720.0,2416.5 740.0,2418.7 760.0,2420.8 780.0,2422.8 800.0,2424.7 820.0,2426.5 840.0,2428.2 860.0,2429.9 880.0,2431.4 900.0,2432.8 920.0,2434.2 940.0,2435.4 960.0,2436.6 980.0,2437.7 1000.0,2438.6 1020.0,2439.5 1040.0,2440.4 1060.0,2441.1 1080.0,2441.7 1100.0,2442.3 1120.0,2442.7 1140.0,2443.1 1160.0,2443.4 1180.0,2443.6 1200.0,2443.7 1220.0,2443.8 1240.0,2443.7 1260.0,2443.6 1280.0,2443.4 1300.0,2443.1 1320.0,2442.7 1340.0,2442.3 1360.0,2441.8 1380.0,2441.2 1400.0,2440.5 1420.0,2439.8 1440.0,2439.0 1460.0,2438.1 1480.0,2437.1 1500.0,2436.1 1520.0,2435.0 1540.0,2433.9 1560.0,2432.7 1580.0,2431.5 1600.0,2430.2 1620.0,2428.9 1640.0,2427.5 1660.0,2426.1 1680.0,2424.6 1700.0,2423.1 1720.0,2421.6 1740.0,2420.1 1760.0,2418.6 1780.0,2417.0 1800.0,2415.5 1820.0,2413.9 1840.0,2412.4 1860.0,2410.9 1880.0,2409.4 1900.0,2408.0 1920.0,2406.6 1940.0,2405.2 1960.0,2403.9 1980.0,2402.7 2000.0,2401.6 L2000.0,2438.8 1980.0,2440.7 1960.0,2442.6 1940.0,2444.4 1920.0,2446.3 1900.0,2448.3 1880.0,2450.2 1860.0,2452.1 1840.0,2454.0 1820.0,2455.8 1800.0,2457.7 1780.0,2459.5 1760.0,2461.4 1740.0,2463.2 1720.0,2464.9 1700.0,2466.7 1680.0,2468.4 1660.0,2470.0 1640.0,2471.6 1620.0,2473.2 1600.0,2474.7 1580.0,2476.2 1560.0,2477.6 1540.0,2479.0 1520.0,2480.3 1500.0,2481.6 1480.0,2482.8 1460.0,2483.9 1440.0,2485.0 1420.0,2486.1 1400.0,2487.0 1380.0,2487.9 1360.0,2488.8 1340.0,2489.6 1320.0,2490.3 1300.0,2491.0 1280.0,2491.6 1260.0,2492.1 1240.0,2492.6 1220.0,2493.0 1200.0,2493.3 1180.0,2493.6 1160.0,2493.8 1140.0,2493.9 1120.0,2494.0 1100.0,2494.0 1080.0,2494.0 1060.0,2493.8 1040.0,2493.7 1020.0,2493.4 1000.0,2493.1 980.0,2492.7 960.0,2492.3 940.0,2491.8 920.0,2491.2 900.0,2490.6 880.0,2489.9 860.0,2489.2 840.0,2488.4 820.0,2487.5 800.0,2486.5 780.0,2485.5 760.0,2484.5 740.0,2483.3 720.0,2482.1 700.0,2480.9 680.0,2479.5 660.0,2478.2 640.0,2476.7 620.0,2475.2 600.0,2473.6 580.0,2471.9 560.0,2470.2 540.0,2468.4 520.0,2466.5 500.0,2464.6 480.0,2462.6 460.0,2460.5 440.0,2458.4 420.0,2456.1 400.0,2453.8 380.0,2451.4 360.0,2448.9 340.0,2446.3 320.0,2443.7 300.0,2440.9 280.0,2438.0 260.0,2435.1 240.0,2432.0 220.0,2428.9 200.0,2425.6 180.0,2422.2 160.0,2418.8 140.0,2415.1 120.0,2411.4 100.0,2407.5 80.0,2403.5 60.0,2399.4 40.0,2395.1 20.0,2390.7 0.0,2386.1 -20.0,2381.3 Z" fill="url(#gSwO)"/>
<path d="M-20.0,2228.3 0.0,2237.6 20.0,2246.5 40.0,2255.1 60.0,2263.4 80.0,2271.3 100.0,2279.0 120.0,2286.4 140.0,2293.5 160.0,2300.3 180.0,2306.9 200.0,2313.3 220.0,2319.4 240.0,2325.3 260.0,2331.0 280.0,2336.4 300.0,2341.7 320.0,2346.8 340.0,2351.7 360.0,2356.4 380.0,2360.9 400.0,2365.3 420.0,2369.5 440.0,2373.5 460.0,2377.4 480.0,2381.2 500.0,2384.8 520.0,2388.3 540.0,2391.7 560.0,2394.9 580.0,2398.0 600.0,2401.0 620.0,2403.8 640.0,2406.6 660.0,2409.2 680.0,2411.7 700.0,2414.1 720.0,2416.5 740.0,2418.7 760.0,2420.8 780.0,2422.8 800.0,2424.7 820.0,2426.5 840.0,2428.2 860.0,2429.9 880.0,2431.4 900.0,2432.8 920.0,2434.2 940.0,2435.4 960.0,2436.6 980.0,2437.7 1000.0,2438.6 1020.0,2439.5 1040.0,2440.4 1060.0,2441.1 1080.0,2441.7 1100.0,2442.3 1120.0,2442.7 1140.0,2443.1 1160.0,2443.4 1180.0,2443.6 1200.0,2443.7 1220.0,2443.8 1240.0,2443.7 1260.0,2443.6 1280.0,2443.4 1300.0,2443.1 1320.0,2442.7 1340.0,2442.3 1360.0,2441.8 1380.0,2441.2 1400.0,2440.5 1420.0,2439.8 1440.0,2439.0 1460.0,2438.1 1480.0,2437.1 1500.0,2436.1 1520.0,2435.0 1540.0,2433.9 1560.0,2432.7 1580.0,2431.5 1600.0,2430.2 1620.0,2428.9 1640.0,2427.5 1660.0,2426.1 1680.0,2424.6 1700.0,2423.1 1720.0,2421.6 1740.0,2420.1 1760.0,2418.6 1780.0,2417.0 1800.0,2415.5 1820.0,2413.9 1840.0,2412.4 1860.0,2410.9 1880.0,2409.4 1900.0,2408.0 1920.0,2406.6 1940.0,2405.2 1960.0,2403.9 1980.0,2402.7 2000.0,2401.6 L2000.0,2411.7 1980.0,2413.1 1960.0,2414.7 1940.0,2416.4 1920.0,2418.3 1900.0,2420.2 1880.0,2422.2 1860.0,2424.4 1840.0,2426.5 1820.0,2428.8 1800.0,2431.0 1780.0,2433.3 1760.0,2435.6 1740.0,2437.9 1720.0,2440.2 1700.0,2442.5 1680.0,2444.7 1660.0,2446.9 1640.0,2449.1 1620.0,2451.2 1600.0,2453.3 1580.0,2455.3 1560.0,2457.2 1540.0,2459.1 1520.0,2460.9 1500.0,2462.6 1480.0,2464.2 1460.0,2465.7 1440.0,2467.2 1420.0,2468.5 1400.0,2469.7 1380.0,2470.9 1360.0,2471.9 1340.0,2472.8 1320.0,2473.6 1300.0,2474.3 1280.0,2474.9 1260.0,2475.4 1240.0,2475.8 1220.0,2476.1 1200.0,2476.3 1180.0,2476.3 1160.0,2476.3 1140.0,2476.1 1120.0,2475.9 1100.0,2475.5 1080.0,2475.1 1060.0,2474.5 1040.0,2473.8 1020.0,2473.1 1000.0,2472.2 980.0,2471.2 960.0,2470.2 940.0,2469.0 920.0,2467.8 900.0,2467.1 880.0,2466.4 860.0,2465.6 840.0,2464.7 820.0,2463.7 800.0,2462.7 780.0,2461.5 760.0,2460.2 740.0,2458.8 720.0,2457.4 700.0,2455.8 680.0,2454.2 660.0,2452.5 640.0,2450.7 620.0,2448.8 600.0,2446.8 580.0,2445.2 560.0,2443.5 540.0,2441.8 520.0,2439.9 500.0,2437.9 480.0,2435.9 460.0,2433.7 440.0,2431.4 420.0,2429.0 400.0,2426.0 380.0,2422.9 360.0,2419.7 340.0,2416.0 320.0,2412.0 300.0,2407.8 280.0,2403.4 260.0,2398.9 240.0,2394.1 220.0,2389.1 200.0,2383.8 180.0,2378.3 160.0,2372.5 140.0,2366.6 120.0,2360.4 100.0,2355.4 80.0,2350.2 60.0,2344.7 40.0,2338.8 20.0,2332.7 0.0,2326.2 -20.0,2318.8 Z" fill="url(#gSwR)"/>
<path d="M-20.0,2228.3 0.0,2237.6 20.0,2246.5 40.0,2255.1 60.0,2263.4 80.0,2271.3 100.0,2279.0 120.0,2286.4 140.0,2293.5 160.0,2300.3 180.0,2306.9 200.0,2313.3 220.0,2319.4 240.0,2325.3 260.0,2331.0 280.0,2336.4 300.0,2341.7 320.0,2346.8 340.0,2351.7 360.0,2356.4 380.0,2360.9 400.0,2365.3 420.0,2369.5 440.0,2373.5 460.0,2377.4 480.0,2381.2 500.0,2384.8 520.0,2388.3 540.0,2391.7 560.0,2394.9 580.0,2398.0 600.0,2401.0 620.0,2403.8 640.0,2406.6 660.0,2409.2 680.0,2411.7 700.0,2414.1 720.0,2416.5 740.0,2418.7 760.0,2420.8 780.0,2422.8 800.0,2424.7 820.0,2426.5 840.0,2428.2 860.0,2429.9 880.0,2431.4 900.0,2432.8 920.0,2434.2 940.0,2435.4 960.0,2436.6 980.0,2437.7 1000.0,2438.6 1020.0,2439.5 1040.0,2440.4 1060.0,2441.1 1080.0,2441.7 1100.0,2442.3 1120.0,2442.7 1140.0,2443.1 1160.0,2443.4 1180.0,2443.6 1200.0,2443.7 1220.0,2443.8 1240.0,2443.7 1260.0,2443.6 1280.0,2443.4 1300.0,2443.1 1320.0,2442.7 1340.0,2442.3 1360.0,2441.8 1380.0,2441.2 1400.0,2440.5 1420.0,2439.8 1440.0,2439.0 1460.0,2438.1 1480.0,2437.1 1500.0,2436.1 1520.0,2435.0 1540.0,2433.9 1560.0,2432.7 1580.0,2431.5 1600.0,2430.2 1620.0,2428.9 1640.0,2427.5 1660.0,2426.1 1680.0,2424.6 1700.0,2423.1 1720.0,2421.6 1740.0,2420.1 1760.0,2418.6 1780.0,2417.0 1800.0,2415.5 1820.0,2413.9 1840.0,2412.4 1860.0,2410.9 1880.0,2409.4 1900.0,2408.0 1920.0,2406.6 1940.0,2405.2 1960.0,2403.9 1980.0,2402.7 2000.0,2401.6 L2000.0,2411.7 1980.0,2413.1 1960.0,2414.7 1940.0,2416.4 1920.0,2418.3 1900.0,2420.2 1880.0,2422.2 1860.0,2424.4 1840.0,2426.5 1820.0,2428.8 1800.0,2431.0 1780.0,2433.3 1760.0,2435.6 1740.0,2437.9 1720.0,2440.2 1700.0,2442.5 1680.0,2444.7 1660.0,2446.9 1640.0,2449.1 1620.0,2451.2 1600.0,2453.3 1580.0,2455.3 1560.0,2457.2 1540.0,2459.1 1520.0,2460.9 1500.0,2462.6 1480.0,2464.2 1460.0,2465.7 1440.0,2467.2 1420.0,2468.5 1400.0,2469.7 1380.0,2470.9 1360.0,2471.9 1340.0,2472.8 1320.0,2473.6 1300.0,2474.3 1280.0,2474.9 1260.0,2475.4 1240.0,2475.8 1220.0,2476.1 1200.0,2476.3 1180.0,2476.3 1160.0,2476.3 1140.0,2476.1 1120.0,2475.9 1100.0,2475.5 1080.0,2475.1 1060.0,2474.5 1040.0,2473.8 1020.0,2473.1 1000.0,2472.2 980.0,2471.2 960.0,2470.2 940.0,2469.0 920.0,2467.8 900.0,2466.4 880.0,2465.0 860.0,2463.5 840.0,2461.9 820.0,2460.2 800.0,2458.4 780.0,2456.5 760.0,2454.5 740.0,2452.5 720.0,2450.4 700.0,2448.2 680.0,2445.9 660.0,2443.5 640.0,2441.0 620.0,2438.4 600.0,2435.8 580.0,2433.0 560.0,2430.2 540.0,2427.3 520.0,2424.2 500.0,2421.1 480.0,2417.9 460.0,2414.5 440.0,2411.1 420.0,2407.5 400.0,2403.8 380.0,2400.0 360.0,2396.0 340.0,2392.0 320.0,2387.7 300.0,2383.3 280.0,2378.8 260.0,2374.0 240.0,2369.1 220.0,2364.1 200.0,2358.8 180.0,2353.3 160.0,2347.5 140.0,2341.6 120.0,2335.4 100.0,2328.9 80.0,2322.2 60.0,2315.2 40.0,2307.8 20.0,2300.2 0.0,2292.2 -20.0,2283.8 Z" fill="url(#gSwY)"/>
<path d="M-20.0,2283.8 0.0,2292.2 20.0,2300.2 40.0,2307.8 60.0,2315.2 80.0,2322.2 100.0,2328.9 120.0,2335.4 140.0,2341.6 160.0,2347.5 180.0,2353.3 200.0,2358.8 220.0,2364.1 240.0,2369.1 260.0,2374.0 280.0,2378.8 300.0,2383.3 320.0,2387.7 340.0,2392.0 360.0,2396.0 380.0,2400.0 400.0,2403.8 420.0,2407.5 440.0,2411.1 460.0,2414.5 480.0,2417.9 500.0,2421.1 520.0,2424.2 540.0,2427.3 560.0,2430.2 580.0,2433.0 600.0,2435.8 620.0,2438.4 640.0,2441.0 660.0,2443.5 680.0,2445.9 700.0,2448.2 720.0,2450.4 740.0,2452.5 760.0,2454.5 780.0,2456.5 800.0,2458.4 820.0,2460.2 840.0,2461.9 860.0,2463.5 880.0,2465.0 900.0,2466.4 920.0,2467.8 940.0,2469.0 960.0,2470.2 980.0,2471.2 1000.0,2472.2 1020.0,2473.1 1040.0,2473.8 1060.0,2474.5 1080.0,2475.1 1100.0,2475.5 1120.0,2475.9 1140.0,2476.1 1160.0,2476.3 1180.0,2476.3 1200.0,2476.3 1220.0,2476.1 1240.0,2475.8 1260.0,2475.4 1280.0,2474.9 1300.0,2474.3 1320.0,2473.6 1340.0,2472.8 1360.0,2471.9 1380.0,2470.9 1400.0,2469.7 1420.0,2468.5 1440.0,2467.2 1460.0,2465.7 1480.0,2464.2 1500.0,2462.6 1520.0,2460.9 1540.0,2459.1 1560.0,2457.2 1580.0,2455.3 1600.0,2453.3 1620.0,2451.2 1640.0,2449.1 1660.0,2446.9 1680.0,2444.7 1700.0,2442.5 1720.0,2440.2 1740.0,2437.9 1760.0,2435.6 1780.0,2433.3 1800.0,2431.0 1820.0,2428.8 1840.0,2426.5 1860.0,2424.4 1880.0,2422.2 1900.0,2420.2 1920.0,2418.3 1940.0,2416.4 1960.0,2414.7 1980.0,2413.1 2000.0,2411.7 L2000.0,2412.7 1980.0,2414.1 1960.0,2415.7 1940.0,2417.4 1920.0,2419.2 1900.0,2421.2 1880.0,2423.2 1860.0,2425.3 1840.0,2427.5 1820.0,2429.7 1800.0,2432.0 1780.0,2434.3 1760.0,2436.6 1740.0,2438.9 1720.0,2441.2 1700.0,2443.4 1680.0,2445.7 1660.0,2447.9 1640.0,2450.1 1620.0,2452.2 1600.0,2454.3 1580.0,2456.3 1560.0,2458.2 1540.0,2460.1 1520.0,2461.9 1500.0,2463.6 1480.0,2465.2 1460.0,2466.7 1440.0,2468.1 1420.0,2469.5 1400.0,2470.7 1380.0,2471.8 1360.0,2472.9 1340.0,2473.8 1320.0,2474.6 1300.0,2475.3 1280.0,2475.9 1260.0,2476.4 1240.0,2476.8 1220.0,2477.1 1200.0,2477.2 1180.0,2477.3 1160.0,2477.3 1140.0,2477.1 1120.0,2476.9 1100.0,2476.5 1080.0,2476.2 1060.0,2475.7 1040.0,2475.1 1020.0,2474.5 1000.0,2473.7 980.0,2472.8 960.0,2471.9 940.0,2470.8 920.0,2469.7 900.0,2468.4 880.0,2467.1 860.0,2465.7 840.0,2464.2 820.0,2462.6 800.0,2460.9 780.0,2459.1 760.0,2457.2 740.0,2455.3 720.0,2453.3 700.0,2451.2 680.0,2449.0 660.0,2446.7 640.0,2444.3 620.0,2441.8 600.0,2439.3 580.0,2436.6 560.0,2433.9 540.0,2431.1 520.0,2428.1 500.0,2425.1 480.0,2422.0 460.0,2418.7 440.0,2415.4 420.0,2411.9 400.0,2408.3 380.0,2404.6 360.0,2400.7 340.0,2396.8 320.0,2392.6 300.0,2388.3 280.0,2383.9 260.0,2379.2 240.0,2374.4 220.0,2369.5 200.0,2364.3 180.0,2358.9 160.0,2353.2 140.0,2347.4 120.0,2341.3 100.0,2334.9 80.0,2328.3 60.0,2321.4 40.0,2314.1 20.0,2306.6 0.0,2298.7 -20.0,2290.3 Z" fill="url(#gSwS)"/>
<path d="M-20.0,2290.9 0.0,2299.3 20.0,2307.2 40.0,2314.7 60.0,2322.0 80.0,2328.9 100.0,2335.5 120.0,2341.9 140.0,2348.0 160.0,2353.8 180.0,2359.5 200.0,2364.9 220.0,2370.1 240.0,2375.0 260.0,2379.8 280.0,2384.5 300.0,2388.9 320.0,2393.2 340.0,2397.4 360.0,2401.3 380.0,2405.2 400.0,2408.9 420.0,2412.5 440.0,2416.0 460.0,2419.3 480.0,2422.6 500.0,2425.7 520.0,2428.7 540.0,2431.7 560.0,2434.5 580.0,2437.2 600.0,2439.9 620.0,2442.4 640.0,2444.9 660.0,2447.3 680.0,2449.6 700.0,2451.8 720.0,2453.9 740.0,2455.9 760.0,2457.8 780.0,2459.7 800.0,2461.5 820.0,2463.2 840.0,2464.8 860.0,2466.3 880.0,2467.7 900.0,2469.0 920.0,2470.3 940.0,2471.4 960.0,2472.5 980.0,2473.4 1000.0,2474.3 1020.0,2475.1 1040.0,2475.7 1060.0,2476.3 1080.0,2476.8 1100.0,2477.1 1120.0,2477.5 1140.0,2477.7 1160.0,2477.9 1180.0,2477.9 1200.0,2477.8 1220.0,2477.7 1240.0,2477.4 1260.0,2477.0 1280.0,2476.5" fill="none" stroke="url(#gSwLine)" stroke-width="1.5"/>
<path d="M1780.0,2417.0 1800.0,2414.6 1820.0,2412.0 1840.0,2409.2 1860.0,2406.4 1880.0,2403.5 1900.0,2400.6 1920.0,2397.7 1940.0,2394.8 1960.0,2391.9 1980.0,2389.0 2000.0,2386.2 L2000.0,2402.6 1980.0,2403.7 1960.0,2404.9 1940.0,2406.2 1920.0,2407.6 1900.0,2409.0 1880.0,2410.4 1860.0,2411.9 1840.0,2413.4 1820.0,2414.9 1800.0,2416.5 1780.0,2418.0 Z" fill="#f68e5e"/>
<text x="292.21" y="143.20" font-size="39.24" fill="#3d67a9" textLength="959.52" lengthAdjust="spacingAndGlyphs" stroke="#ffffff" stroke-width="0.9">K16H1000M8-43 - 16” Submersible Sewage Pumps</text>
<text x="1389.20" y="129.80" font-size="29.22" fill="#231f20" textLength="116.39" lengthAdjust="spacingAndGlyphs" stroke="#ffffff" stroke-width="0.3">Section:</text>
<text x="1534.88" y="129.80" font-size="29.22" fill="#231f20" textLength="166.49" lengthAdjust="spacingAndGlyphs" stroke="#ffffff" stroke-width="0.3">NON-CLOG</text>
<text x="1429.62" y="164.70" font-size="29.22" fill="#231f20" textLength="76.26" lengthAdjust="spacingAndGlyphs" stroke="#ffffff" stroke-width="0.3">Date:</text>
<text x="1534.35" y="164.70" font-size="29.22" fill="#231f20" textLength="67.96" lengthAdjust="spacingAndGlyphs" stroke="#ffffff" stroke-width="0.3">2025</text>
<text x="178.20" y="350.40" font-size="30.23" fill="#fff9e3" textLength="143.73" lengthAdjust="spacingAndGlyphs" stroke="url(#uGen)" stroke-width="0.8">GENERAL</text>
<text x="177.21" y="421.00" font-size="29.80" fill="#231f20" textLength="191.50" lengthAdjust="spacingAndGlyphs" stroke="#ffffff" stroke-width="0.3">Pump Model</text>
<text x="540.14" y="400.90" font-size="53.20" fill="#2f5faa" textLength="417.78" lengthAdjust="spacingAndGlyphs" stroke="#ffffff" stroke-width="0.2">K16H1000M8-43</text>
<text x="178.00" y="486.00" font-size="29.94" fill="#fff9e3" textLength="178.26" lengthAdjust="spacingAndGlyphs" stroke="url(#uPump)" stroke-width="0.8">PUMP DATA</text>
<text x="178.05" y="546.30" font-size="29.51" fill="#231f20" textLength="70.25" lengthAdjust="spacingAndGlyphs" stroke="#ffffff" stroke-width="0.3">Date</text>
<text x="177.28" y="598.40" font-size="29.51" fill="#231f20" textLength="256.88" lengthAdjust="spacingAndGlyphs" stroke="#ffffff" stroke-width="0.3">Discharge Flange</text>
<text x="177.77" y="652.80" font-size="29.51" fill="#231f20" textLength="151.00" lengthAdjust="spacingAndGlyphs" stroke="#ffffff" stroke-width="0.3">Solids Size</text>
<text x="176.12" y="707.20" font-size="29.51" fill="#231f20" textLength="199.20" lengthAdjust="spacingAndGlyphs" stroke="#ffffff" stroke-width="0.3">Impeller Type</text>
<text x="525.54" y="546.00" font-size="29.51" fill="#231f20" textLength="112.73" lengthAdjust="spacingAndGlyphs" stroke="#ffffff" stroke-width="0.3">02/2023</text>
<text x="524.61" y="598.30" font-size="29.51" fill="#231f20" textLength="205.83" lengthAdjust="spacingAndGlyphs" stroke="#ffffff" stroke-width="0.3">16” ANSI, 150lb</text>
<text x="525.50" y="652.70" font-size="29.51" fill="#231f20" textLength="86.82" lengthAdjust="spacingAndGlyphs" stroke="#ffffff" stroke-width="0.3">5 inch</text>
<text x="524.43" y="707.10" font-size="29.51" fill="#231f20" textLength="241.70" lengthAdjust="spacingAndGlyphs" stroke="#ffffff" stroke-width="0.3">Enclosed 2-Vane</text>
<text x="1058.85" y="350.60" font-size="30.23" fill="#fff9e3" textLength="201.18" lengthAdjust="spacingAndGlyphs" stroke="url(#uMotor)" stroke-width="0.8">MOTOR DATA</text>
<text x="1029.33" y="409.80" font-size="29.80" fill="#231f20" textLength="71.95" lengthAdjust="spacingAndGlyphs" stroke="#ffffff" stroke-width="0.3">Load</text>
<text x="1029.38" y="467.90" font-size="29.80" fill="#231f20" textLength="192.72" lengthAdjust="spacingAndGlyphs" stroke="#ffffff" stroke-width="0.3">Efficiency (%)</text>
<text x="1029.33" y="526.10" font-size="29.80" fill="#231f20" textLength="199.70" lengthAdjust="spacingAndGlyphs" stroke="#ffffff" stroke-width="0.3">Power Supply</text>
<text x="1029.27" y="584.20" font-size="29.80" fill="#231f20" textLength="156.41" lengthAdjust="spacingAndGlyphs" stroke="#ffffff" stroke-width="0.3">HP / Amps</text>
<text x="1029.37" y="642.30" font-size="29.80" fill="#231f20" textLength="291.06" lengthAdjust="spacingAndGlyphs" stroke="#ffffff" stroke-width="0.3">Poles / Rated Speed</text>
<text x="1028.23" y="700.40" font-size="29.80" fill="#231f20" textLength="229.22" lengthAdjust="spacingAndGlyphs" stroke="#ffffff" stroke-width="0.3">Insulation Class</text>
<text x="1399.11" y="409.80" font-size="29.80" fill="#231f20" textLength="30.95" lengthAdjust="spacingAndGlyphs" stroke="#ffffff" stroke-width="0.3">1/1</text>
<text x="1560.25" y="409.80" font-size="29.80" fill="#231f20" textLength="43.58" lengthAdjust="spacingAndGlyphs" stroke="#ffffff" stroke-width="0.3">3/4</text>
<text x="1717.36" y="409.80" font-size="29.80" fill="#231f20" textLength="38.14" lengthAdjust="spacingAndGlyphs" stroke="#ffffff" stroke-width="0.3">1/2</text>
<text x="1399.53" y="467.60" font-size="29.80" fill="#231f20" textLength="35.60" lengthAdjust="spacingAndGlyphs" stroke="#ffffff" stroke-width="0.3">85</text>
<text x="1563.93" y="467.60" font-size="29.80" fill="#231f20" textLength="35.60" lengthAdjust="spacingAndGlyphs" stroke="#ffffff" stroke-width="0.3">87</text>
<text x="1713.26" y="467.60" font-size="29.80" fill="#231f20" textLength="37.74" lengthAdjust="spacingAndGlyphs" stroke="#ffffff" stroke-width="0.3">86</text>
<text x="1398.65" y="525.60" font-size="29.80" fill="#231f20" textLength="238.23" lengthAdjust="spacingAndGlyphs" stroke="#ffffff" stroke-width="0.3">3 ϕ, 460 V, 60 Hz</text>
<text x="1397.71" y="584.20" font-size="29.80" fill="#231f20" textLength="199.01" lengthAdjust="spacingAndGlyphs" stroke="#ffffff" stroke-width="0.3">100 HP / 155 A</text>
<text x="1398.89" y="641.70" font-size="29.80" fill="#231f20" textLength="188.80" lengthAdjust="spacingAndGlyphs" stroke="#ffffff" stroke-width="0.3">8P / 870 rpm</text>
<text x="1399.36" y="700.00" font-size="29.80" fill="#231f20" textLength="106.31" lengthAdjust="spacingAndGlyphs" stroke="#ffffff" stroke-width="0.3">H Class</text>
<text x="521.46" y="804.30" font-size="24.71" fill="#ffffff" textLength="118.58" lengthAdjust="spacingAndGlyphs" stroke="url(#uBlue)" stroke-width="0.5">HEAD (FT)</text>
<text x="867.86" y="804.30" font-size="24.71" fill="#ffffff" textLength="114.44" lengthAdjust="spacingAndGlyphs" stroke="url(#uBlue)" stroke-width="0.5">CAPACITY</text>
<text x="1195.34" y="803.80" font-size="24.71" fill="#ffffff" textLength="195.78" lengthAdjust="spacingAndGlyphs" stroke="url(#uBlue)" stroke-width="0.5">KILOWATTS [KW]</text>
<text x="1527.30" y="804.00" font-size="24.71" fill="#ffffff" textLength="178.96" lengthAdjust="spacingAndGlyphs" stroke="url(#uBlue)" stroke-width="0.5">EFFICIENCY [%]</text>
<text x="179.98" y="862.40" font-size="23.26" fill="#231f20" textLength="235.10" lengthAdjust="spacingAndGlyphs" stroke="#ffffff" stroke-width="0.35">Best Efficiency Point</text>
<text x="523.40" y="862.70" font-size="23.26" fill="#231f20" textLength="29.19" lengthAdjust="spacingAndGlyphs" stroke="#ffffff" stroke-width="0.35">40</text>
<text x="868.92" y="862.70" font-size="23.26" fill="#231f20" textLength="55.87" lengthAdjust="spacingAndGlyphs" stroke="#ffffff" stroke-width="0.35">5500</text>
<text x="1195.40" y="862.40" font-size="23.26" fill="#231f20" textLength="25.98" lengthAdjust="spacingAndGlyphs" stroke="#ffffff" stroke-width="0.35">63</text>
<text x="1530.64" y="862.40" font-size="23.26" fill="#231f20" textLength="27.49" lengthAdjust="spacingAndGlyphs" stroke="#ffffff" stroke-width="0.35">72</text>
<text x="435.31" y="1625.00" font-size="29.51" fill="#231f20" textLength="19.47" lengthAdjust="spacingAndGlyphs" stroke="#ffffff" stroke-width="0.3">0</text>
<text x="421.42" y="1565.40" font-size="29.51" fill="#231f20" textLength="32.50" lengthAdjust="spacingAndGlyphs" stroke="#ffffff" stroke-width="0.3">10</text>
<text x="417.69" y="1505.80" font-size="29.51" fill="#231f20" textLength="36.32" lengthAdjust="spacingAndGlyphs" stroke="#ffffff" stroke-width="0.3">20</text>
<text x="416.87" y="1446.20" font-size="29.51" fill="#231f20" textLength="37.17" lengthAdjust="spacingAndGlyphs" stroke="#ffffff" stroke-width="0.3">30</text>
<text x="415.42" y="1386.60" font-size="29.51" fill="#231f20" textLength="38.65" lengthAdjust="spacingAndGlyphs" stroke="#ffffff" stroke-width="0.3">40</text>
<text x="416.87" y="1327.00" font-size="29.51" fill="#231f20" textLength="37.17" lengthAdjust="spacingAndGlyphs" stroke="#ffffff" stroke-width="0.3">50</text>
<text x="417.69" y="1267.40" font-size="29.51" fill="#231f20" textLength="36.32" lengthAdjust="spacingAndGlyphs" stroke="#ffffff" stroke-width="0.3">60</text>
<text x="418.21" y="1207.80" font-size="29.51" fill="#231f20" textLength="35.79" lengthAdjust="spacingAndGlyphs" stroke="#ffffff" stroke-width="0.3">70</text>
<text x="416.87" y="1148.20" font-size="29.51" fill="#231f20" textLength="37.17" lengthAdjust="spacingAndGlyphs" stroke="#ffffff" stroke-width="0.3">80</text>
<text x="416.87" y="1088.60" font-size="29.51" fill="#231f20" textLength="37.17" lengthAdjust="spacingAndGlyphs" stroke="#ffffff" stroke-width="0.3">90</text>
<text x="402.70" y="1029.00" font-size="29.51" fill="#231f20" textLength="51.70" lengthAdjust="spacingAndGlyphs" stroke="#ffffff" stroke-width="0.3">100</text>
<text x="461.61" y="1664.50" font-size="28.05" fill="#231f20" textLength="18.51" lengthAdjust="spacingAndGlyphs" stroke="#ffffff" stroke-width="0.3">0</text>
<text x="532.35" y="1664.50" font-size="28.05" fill="#231f20" textLength="70.23" lengthAdjust="spacingAndGlyphs" stroke="#ffffff" stroke-width="0.3">1000</text>
<text x="629.70" y="1664.50" font-size="28.05" fill="#231f20" textLength="74.68" lengthAdjust="spacingAndGlyphs" stroke="#ffffff" stroke-width="0.3">2000</text>
<text x="721.78" y="1664.50" font-size="28.05" fill="#231f20" textLength="75.93" lengthAdjust="spacingAndGlyphs" stroke="#ffffff" stroke-width="0.3">3000</text>
<text x="821.37" y="1664.50" font-size="28.05" fill="#231f20" textLength="76.76" lengthAdjust="spacingAndGlyphs" stroke="#ffffff" stroke-width="0.3">4000</text>
<text x="919.31" y="1664.50" font-size="28.05" fill="#231f20" textLength="74.26" lengthAdjust="spacingAndGlyphs" stroke="#ffffff" stroke-width="0.3">5000</text>
<text x="1012.69" y="1664.50" font-size="28.05" fill="#231f20" textLength="75.51" lengthAdjust="spacingAndGlyphs" stroke="#ffffff" stroke-width="0.3">6000</text>
<text x="1112.69" y="1664.50" font-size="28.05" fill="#231f20" textLength="75.41" lengthAdjust="spacingAndGlyphs" stroke="#ffffff" stroke-width="0.3">7000</text>
<text x="1210.67" y="1664.50" font-size="28.05" fill="#231f20" textLength="76.97" lengthAdjust="spacingAndGlyphs" stroke="#ffffff" stroke-width="0.3">8000</text>
<text x="1308.47" y="1664.50" font-size="28.05" fill="#231f20" textLength="76.86" lengthAdjust="spacingAndGlyphs" stroke="#ffffff" stroke-width="0.3">9000</text>
<text x="1398.31" y="1664.50" font-size="28.05" fill="#231f20" textLength="89.13" lengthAdjust="spacingAndGlyphs" stroke="#ffffff" stroke-width="0.3">10000</text>
<text x="1499.59" y="1664.50" font-size="28.05" fill="#231f20" textLength="80.19" lengthAdjust="spacingAndGlyphs" stroke="#ffffff" stroke-width="0.3">11000</text>
<text x="894.69" y="1719.00" font-size="27.62" fill="#231f20" textLength="198.20" lengthAdjust="spacingAndGlyphs" stroke="#ffffff" stroke-width="0.3">Capacity (GPM)</text>
<text x="435.83" y="2035.40" font-size="29.51" fill="#231f20" textLength="19.24" lengthAdjust="spacingAndGlyphs" stroke="#ffffff" stroke-width="0.3">0</text>
<text x="418.20" y="1990.18" font-size="29.51" fill="#231f20" textLength="36.11" lengthAdjust="spacingAndGlyphs" stroke="#ffffff" stroke-width="0.3">20</text>
<text x="415.83" y="1944.96" font-size="29.51" fill="#231f20" textLength="38.55" lengthAdjust="spacingAndGlyphs" stroke="#ffffff" stroke-width="0.3">40</text>
<text x="417.58" y="1899.74" font-size="29.51" fill="#231f20" textLength="36.75" lengthAdjust="spacingAndGlyphs" stroke="#ffffff" stroke-width="0.3">60</text>
<text x="417.58" y="1854.52" font-size="29.51" fill="#231f20" textLength="36.75" lengthAdjust="spacingAndGlyphs" stroke="#ffffff" stroke-width="0.3">80</text>
<text x="403.94" y="1809.30" font-size="29.51" fill="#231f20" textLength="50.73" lengthAdjust="spacingAndGlyphs" stroke="#ffffff" stroke-width="0.3">100</text>
<text x="464.42" y="2070.00" font-size="27.33" fill="#231f20" textLength="19.41" lengthAdjust="spacingAndGlyphs" stroke="#ffffff" stroke-width="0.3">0</text>
<text x="533.14" y="2070.00" font-size="27.33" fill="#231f20" textLength="68.73" lengthAdjust="spacingAndGlyphs" stroke="#ffffff" stroke-width="0.3">1000</text>
<text x="632.98" y="2070.00" font-size="27.33" fill="#231f20" textLength="74.36" lengthAdjust="spacingAndGlyphs" stroke="#ffffff" stroke-width="0.3">2000</text>
<text x="725.05" y="2070.00" font-size="27.33" fill="#231f20" textLength="76.11" lengthAdjust="spacingAndGlyphs" stroke="#ffffff" stroke-width="0.3">3000</text>
<text x="823.72" y="2070.00" font-size="27.33" fill="#231f20" textLength="77.86" lengthAdjust="spacingAndGlyphs" stroke="#ffffff" stroke-width="0.3">4000</text>
<text x="922.17" y="2070.00" font-size="27.33" fill="#231f20" textLength="74.77" lengthAdjust="spacingAndGlyphs" stroke="#ffffff" stroke-width="0.3">5000</text>
<text x="1015.55" y="2070.00" font-size="27.33" fill="#231f20" textLength="76.01" lengthAdjust="spacingAndGlyphs" stroke="#ffffff" stroke-width="0.3">6000</text>
<text x="1115.98" y="2070.00" font-size="27.33" fill="#231f20" textLength="73.85" lengthAdjust="spacingAndGlyphs" stroke="#ffffff" stroke-width="0.3">7000</text>
<text x="1214.34" y="2070.00" font-size="27.33" fill="#231f20" textLength="76.32" lengthAdjust="spacingAndGlyphs" stroke="#ffffff" stroke-width="0.3">8000</text>
<text x="1310.64" y="2070.00" font-size="27.33" fill="#231f20" textLength="76.32" lengthAdjust="spacingAndGlyphs" stroke="#ffffff" stroke-width="0.3">9000</text>
<text x="1399.37" y="2070.00" font-size="27.33" fill="#231f20" textLength="88.54" lengthAdjust="spacingAndGlyphs" stroke="#ffffff" stroke-width="0.3">10000</text>
<text x="1503.85" y="2070.00" font-size="27.33" fill="#231f20" textLength="79.67" lengthAdjust="spacingAndGlyphs" stroke="#ffffff" stroke-width="0.3">11000</text>
<text x="924.49" y="2138.60" font-size="27.62" fill="#231f20" textLength="198.20" lengthAdjust="spacingAndGlyphs" stroke="#ffffff" stroke-width="0.3">Capacity (GPM)</text>
<text transform="translate(353.70,1405.00) rotate(-90)" x="-0.97" y="0" font-size="27.62" fill="#231f20" textLength="186.11" lengthAdjust="spacingAndGlyphs" stroke="#ffffff" stroke-width="0.3">Total Head (FT)</text>
<text transform="translate(315.00,1954.40) rotate(-90)" x="-2.14" y="0" font-size="27.47" fill="#231f20" textLength="188.07" lengthAdjust="spacingAndGlyphs" stroke="#ffffff" stroke-width="0.3">Kilowatts (kW)</text>
<text transform="translate(970.70,1235.90) rotate(-10.5)" x="-2.09" y="0" font-size="28.92" fill="#231f20" textLength="62.12" lengthAdjust="spacingAndGlyphs" stroke="#ffffff" stroke-width="0.3">EFF.</text>
</svg>
</body></html>
